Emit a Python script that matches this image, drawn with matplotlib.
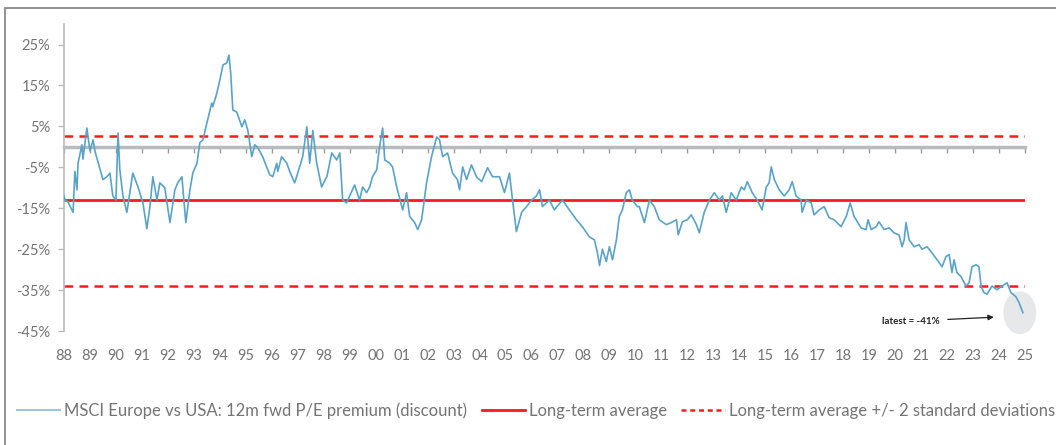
"""
plot.py

MSCI Europe vs USA 12m forward P/E premium (discount), with long-term average
and +/- 2 standard deviation bands.
"""

import matplotlib

matplotlib.use("Agg")
import matplotlib.pyplot as plt
from matplotlib.patches import Ellipse, Rectangle

plt.rcParams["font.family"] = ["Lato", "DejaVu Sans"]

# Series (decimal year, premium in %).
years = [
    1988.00, 1988.04, 1988.15, 1988.35, 1988.42, 1988.50, 1988.54, 1988.69, 1988.73, 1988.88,
    1989.00, 1989.12, 1989.19, 1989.50, 1989.65, 1989.77, 1989.88, 1990.00, 1990.08, 1990.15,
    1990.27, 1990.42, 1990.54, 1990.65, 1990.85, 1991.04, 1991.19, 1991.31, 1991.42, 1991.58,
    1991.69, 1991.88, 1992.08, 1992.27, 1992.38, 1992.54, 1992.69, 1992.85, 1992.96, 1993.12,
    1993.23, 1993.35, 1993.50, 1993.69, 1993.73, 1993.88, 1994.00, 1994.12, 1994.27, 1994.35,
    1994.42, 1994.50, 1994.65, 1994.85, 1994.96, 1995.08, 1995.23, 1995.35, 1995.46, 1995.65,
    1995.92, 1996.04, 1996.19, 1996.23, 1996.38, 1996.58, 1996.69, 1996.88, 1997.00, 1997.19,
    1997.35, 1997.46, 1997.58, 1997.73, 1997.92, 1998.12, 1998.31, 1998.50, 1998.62, 1998.73,
    1998.88, 1999.00, 1999.19, 1999.38, 1999.50, 1999.65, 1999.77, 1999.88, 2000.04, 2000.15,
    2000.27, 2000.35, 2000.54, 2000.65, 2000.81, 2001.04, 2001.19, 2001.31, 2001.50, 2001.62,
    2001.77, 2001.96, 2002.15, 2002.35, 2002.46, 2002.58, 2002.77, 2002.96, 2003.15, 2003.23,
    2003.35, 2003.50, 2003.69, 2003.88, 2004.08, 2004.31, 2004.50, 2004.77, 2004.96, 2005.15,
    2005.27, 2005.42, 2005.62, 2005.81, 2006.00, 2006.19, 2006.31, 2006.42, 2006.69, 2006.88,
    2007.19, 2007.46, 2007.73, 2007.96, 2008.23, 2008.42, 2008.54, 2008.62, 2008.73, 2008.88,
    2009.00, 2009.12, 2009.27, 2009.38, 2009.50, 2009.65, 2009.77, 2009.88, 2010.08, 2010.15,
    2010.35, 2010.54, 2010.73, 2010.92, 2011.19, 2011.38, 2011.58, 2011.65, 2011.81, 2012.00,
    2012.15, 2012.35, 2012.46, 2012.65, 2012.85, 2013.04, 2013.23, 2013.35, 2013.50, 2013.69,
    2013.88, 2014.08, 2014.19, 2014.31, 2014.50, 2014.69, 2014.88, 2015.04, 2015.15, 2015.23,
    2015.35, 2015.54, 2015.73, 2015.92, 2016.04, 2016.19, 2016.38, 2016.42, 2016.58, 2016.77,
    2016.88, 2017.08, 2017.27, 2017.46, 2017.65, 2017.92, 2018.12, 2018.27, 2018.42, 2018.69,
    2018.88, 2018.96, 2019.08, 2019.27, 2019.38, 2019.58, 2019.77, 2019.96, 2020.15, 2020.27,
    2020.35, 2020.42, 2020.54, 2020.73, 2020.92, 2021.04, 2021.23, 2021.42, 2021.62, 2021.81,
    2021.96, 2022.08, 2022.19, 2022.27, 2022.38, 2022.54, 2022.73, 2022.85, 2022.96, 2023.12,
    2023.23, 2023.31, 2023.42, 2023.54, 2023.73, 2023.92, 2024.12, 2024.31, 2024.46, 2024.65,
    2024.77, 2024.92,
]
premium = [
    -12.0, -13.0, -13.4, -16.0, -6.0, -10.5, -4.0, 0.5, -3.0, 4.6,
    -1.0, 1.7, -1.0, -8.0, -7.3, -6.4, -12.0, -13.0, 3.4, -5.6,
    -12.0, -16.0, -11.0, -6.4, -9.8, -13.7, -20.0, -14.6, -7.3, -13.0,
    -8.8, -10.0, -18.5, -10.5, -8.8, -7.3, -18.5, -10.5, -6.4, -4.0,
    1.0, 1.7, 5.8, 10.7, 9.8, 13.0, 16.3, 20.0, 20.5, 22.4,
    18.0, 9.0, 8.5, 4.9, 6.6, 4.0, -2.4, 0.5, -0.2, -2.4,
    -6.8, -7.3, -4.0, -6.0, -2.4, -4.0, -6.0, -8.8, -6.4, -2.4,
    4.9, -4.0, 4.0, -4.0, -9.8, -7.3, -1.5, -3.2, -1.5, -13.0,
    -13.7, -12.0, -9.3, -13.0, -9.8, -11.2, -9.8, -7.3, -5.6, 0.0,
    4.6, -3.2, -4.0, -4.9, -9.8, -15.4, -11.2, -17.0, -18.5, -20.2,
    -17.8, -8.8, -2.4, 2.4, 1.7, -2.4, -1.5, -6.4, -8.0, -10.5,
    -4.9, -8.0, -4.4, -7.3, -8.5, -5.1, -7.3, -7.3, -11.2, -6.4,
    -13.0, -20.7, -16.0, -14.6, -13.0, -12.0, -10.5, -14.6, -13.0, -15.4,
    -13.0, -15.4, -17.8, -19.5, -22.0, -22.7, -25.9, -29.0, -25.0, -28.0,
    -24.4, -27.6, -22.7, -17.0, -15.4, -11.2, -10.5, -13.0, -14.6, -14.6,
    -18.5, -13.0, -14.6, -17.8, -19.0, -18.5, -17.8, -21.5, -18.3, -17.8,
    -16.6, -19.0, -21.0, -16.0, -13.0, -11.2, -13.0, -12.0, -16.0, -11.2,
    -13.0, -9.8, -10.5, -8.5, -11.2, -13.0, -15.4, -9.8, -8.8, -4.9,
    -8.0, -10.5, -12.0, -10.5, -8.5, -12.0, -13.0, -16.0, -13.0, -13.7,
    -16.6, -15.4, -14.6, -17.3, -17.8, -19.5, -17.0, -13.7, -17.0, -19.8,
    -20.2, -17.8, -20.2, -19.5, -18.3, -20.2, -19.8, -21.0, -21.5, -24.4,
    -22.7, -18.5, -22.7, -24.4, -23.9, -25.0, -24.4, -25.9, -27.6, -29.3,
    -26.8, -26.3, -30.7, -27.6, -30.7, -31.7, -34.0, -33.2, -29.3, -28.8,
    -29.3, -34.0, -35.6, -36.0, -34.0, -34.9, -34.0, -33.2, -35.6, -36.6,
    -38.0, -40.5,
]

long_term_avg = -13.0
upper_band = 2.7
lower_band = -34.0

year_ticks = list(range(1988, 2026))
year_labels = [f"{y % 100:02d}" for y in year_ticks]
pct_ticks = [25, 15, 5, -5, -15, -25, -35, -45]

series_label = "MSCI Europe vs USA: 12m fwd P/E premium (discount)"
avg_label = "Long-term average"
band_label = "Long-term average +/- 2 standard deviations"

BLUE = "#5aa3c8"
RED = "#ff1a1a"
GREY_TXT = "#747474"
AXIS_GREY = "#b9bcbf"

fig = plt.figure(figsize=(10.56, 4.45), dpi=100)
ax = fig.add_axes([0.0606, 0.256, 0.910, 0.690])

# outer chart frame (cut off on the right and bottom as in the source)
fig.patches.append(Rectangle((5 / 1056, -0.2), 1.2, 1.2 - 8 / 445,
                             transform=fig.transFigure, fill=False,
                             edgecolor="#8a8a8a", linewidth=1.3))

ax.add_patch(Ellipse((2024.8, -40.5), 1.27, 10.5, facecolor="#e6e8ea",
                     edgecolor="none", clip_on=False, zorder=1))

ax.axhline(upper_band, color=RED, linewidth=1.8, dashes=(3.5, 2.5), zorder=2)
ax.axhline(lower_band, color=RED, linewidth=1.8, dashes=(3.5, 2.5), zorder=2)
ax.axhline(long_term_avg, color=RED, linewidth=2.0, zorder=2)
ax.plot(years, premium, color=BLUE, linewidth=1.2, zorder=3)

ax.annotate("latest = -41%", xy=(2023.8, -41.6), xytext=(2020.6, -42.6),
            fontsize=7, fontweight="bold", color="#222222", ha="center", va="center",
            arrowprops=dict(arrowstyle="-|>", color="#222222", lw=0.9,
                            mutation_scale=8, shrinkA=4, shrinkB=0))

ax.set_xlim(1988, 2025)
ax.set_ylim(-45, 30)

for side in ("top", "right"):
    ax.spines[side].set_visible(False)
ax.spines["left"].set_color(AXIS_GREY)
ax.spines["left"].set_linewidth(1.2)
ax.spines["bottom"].set_position(("data", 0))
ax.spines["bottom"].set_color(AXIS_GREY)
ax.spines["bottom"].set_linewidth(2.5)

ax.set_yticks(pct_ticks)
ax.set_yticklabels([f"{v}%" for v in pct_ticks])
ax.tick_params(axis="y", direction="out", length=4, width=1, color=AXIS_GREY,
               labelsize=10.5, labelcolor=GREY_TXT, pad=6)

ax.set_xticks(year_ticks)
ax.tick_params(axis="x", direction="out", length=4, width=1, color="#9a9a9a",
               labelbottom=False)

sec = ax.secondary_xaxis("bottom")
sec.set_xticks(year_ticks)
sec.set_xticklabels(year_labels)
sec.spines["bottom"].set_visible(False)
sec.tick_params(axis="x", length=0, pad=13, labelsize=10.5, labelcolor=GREY_TXT)

handles = [
    plt.Line2D([], [], color="#9cc6dc", linewidth=1.5),
    plt.Line2D([], [], color=RED, linewidth=2.0),
    plt.Line2D([], [], color=RED, linewidth=1.8, dashes=(2, 1.5)),
]
fig.legend(handles, [series_label, avg_label, band_label], loc="center left",
           bbox_to_anchor=(0.016, 0.078), ncol=3, frameon=False, fontsize=12,
           labelcolor=GREY_TXT, handlelength=2.6, handletextpad=0.25,
           columnspacing=0.85, borderpad=0, borderaxespad=0)

fig.savefig("out.png", dpi=100)
